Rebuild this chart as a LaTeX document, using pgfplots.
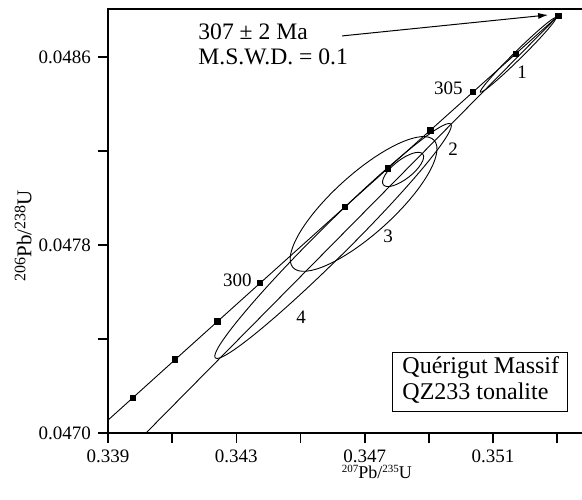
\documentclass[border=0pt]{standalone}
\usepackage{fontspec}
\setmainfont{Liberation Serif}
\usepackage{pgfplots}
\pgfplotsset{compat=1.18}
\usetikzlibrary{shapes.geometric,arrows.meta}

\begin{document}
\begin{tikzpicture}
\begin{axis}[
  name=ax,
  scale only axis,
  width=237pt, height=212pt,
  xmin=0.339, xmax=0.35377,
  ymin=0.0470, ymax=0.048804,
  scaled ticks=false,
  xtick={0.339,0.341,0.343,0.345,0.347,0.349,0.351,0.353},
  xticklabels={0.339,,0.343,,0.347,,0.351,},
  ytick={0.0470,0.0474,0.0478,0.0482,0.0486},
  yticklabels={0.0470,,0.0478,,0.0486},
  xtick pos=left, ytick pos=left,
  tick align=outside,
  major tick length=5pt,
  tick style={black, line width=0.8pt},
  axis line style={draw=none},
  ticklabel style={font=\fontsize{9.5}{10}\selectfont},
  xlabel={\fontsize{9}{10}\selectfont\raisebox{0.7ex}{\fontsize{5.5}{6}\selectfont 207}Pb/\raisebox{0.7ex}{\fontsize{5.5}{6}\selectfont 235}U},
  ylabel={\fontsize{10.5}{11}\selectfont\raisebox{0.6ex}{\fontsize{8}{9}\selectfont 206}Pb/\raisebox{0.6ex}{\fontsize{8}{9}\selectfont 238}U},
  x label style={at={(axis description cs:0.567,-0.092)}, anchor=center},
  y label style={at={(axis description cs:-0.179,0.465)}, anchor=center},
]
% concordia curve
\addplot[black, line width=0.45pt] coordinates {
(0.3384546,0.0469875) (0.3397734,0.0471499) (0.3410935,0.0473124)
(0.3424149,0.0474749) (0.3437376,0.0476374) (0.3450616,0.0477999)
(0.3463869,0.0479625) (0.3477135,0.0481250) (0.3490414,0.0482877)
(0.3503707,0.0484503) (0.3517013,0.0486129) (0.3530332,0.0487756)
};
% age markers (Ma)
\addplot[only marks, mark=square*, mark size=1.35pt, black] coordinates {
(0.3397734,0.0471499) (0.3410935,0.0473124) (0.3424149,0.0474749)
(0.3437376,0.0476374) (0.3463869,0.0479625) (0.3477135,0.0481250)
(0.3490414,0.0482877) (0.3503707,0.0484503) (0.3517013,0.0486129)
(0.3530332,0.0487756)
};
% discordia
\addplot[black, line width=0.45pt] coordinates {(0.340184,0.0470) (0.3530332,0.0487756)};

% error ellipses
\node[draw, ellipse, line width=0.45pt, minimum width=53pt, minimum height=4pt, inner sep=0pt, rotate=44.6] at (axis cs:0.351779,0.0486085) {};
\node[draw, ellipse, line width=0.45pt, minimum width=25pt, minimum height=9.5pt, inner sep=0pt, rotate=38] at (axis cs:0.348195,0.0481213) {};
\node[draw, ellipse, line width=0.45pt, minimum width=95pt, minimum height=30pt, inner sep=0pt, rotate=42] at (axis cs:0.346964,0.0479745) {};
\node[draw, ellipse, line width=0.45pt, minimum width=166pt, minimum height=16pt, inner sep=0pt, rotate=44.8] at (axis cs:0.346013,0.047817) {};

% labels
\node[anchor=base west, inner sep=0pt, font=\fontsize{11.8}{12}\selectfont] at (axis cs:0.341805,0.0486723) {307 ± 2 Ma};
\node[anchor=base west, inner sep=0pt, font=\fontsize{11.8}{12}\selectfont] at (axis cs:0.341805,0.048566) {M.S.W.D. = 0.1};
\draw[black, line width=0.5pt, -{Latex[length=5pt,width=3pt]}] (axis cs:0.346294,0.0486894) -- (axis cs:0.352714,0.0487787);

\node[anchor=base east, inner sep=0pt, font=\fontsize{9.5}{10}\selectfont] at (axis cs:0.343488,0.0476213) {300};
\node[anchor=base east, inner sep=0pt, font=\fontsize{9.5}{10}\selectfont] at (axis cs:0.350065,0.0484383) {305};
\node[inner sep=0pt, font=\fontsize{9.5}{10}\selectfont] at (axis cs:0.351904,0.0485340) {1};
\node[inner sep=0pt, font=\fontsize{9.5}{10}\selectfont] at (axis cs:0.349753,0.0482085) {2};
\node[inner sep=0pt, font=\fontsize{9.5}{10}\selectfont] at (axis cs:0.347727,0.0478362) {3};
\node[inner sep=0pt, font=\fontsize{9.5}{10}\selectfont] at (axis cs:0.345016,0.0474915) {4};

\draw[black, line width=0.5pt] (axis cs:0.347852,0.0470894) rectangle (axis cs:0.353307,0.0473404);
\node[anchor=base west, inner sep=0pt, font=\fontsize{12}{13}\selectfont] at (axis cs:0.348164,0.0472511) {Quérigut Massif};
\node[anchor=base west, inner sep=0pt, font=\fontsize{12}{13}\selectfont] at (axis cs:0.348164,0.0471404) {QZ233 tonalite};

\coordinate (bl) at (rel axis cs:0,0);
\coordinate (tr) at (rel axis cs:1,1);
\end{axis}
\draw[black, line width=1.2pt, line join=miter] (tr) -- (bl |- tr) -- (bl) -- (bl -| tr);
\pgfresetboundingbox
\path[use as bounding box] ([xshift=-54pt,yshift=-33.5pt]bl) rectangle ([yshift=4.5pt]tr);
\end{tikzpicture}
\end{document}
